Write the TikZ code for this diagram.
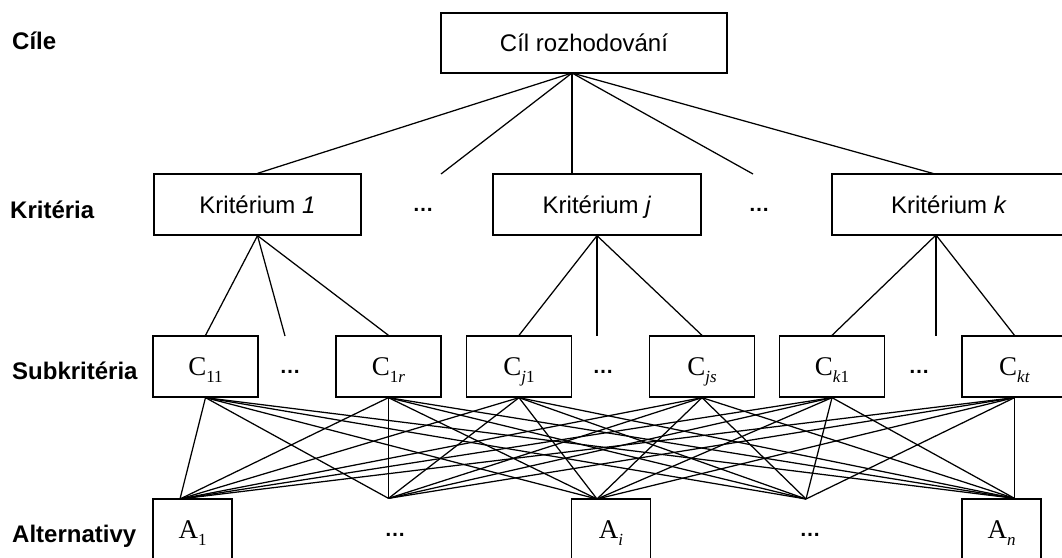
\documentclass[tikz,border=0pt]{standalone}
\usepackage{fontspec}
\setmainfont{Liberation Sans}
\newfontfamily\serifA{Liberation Serif}
\newcommand\lowsub[1]{\raisebox{-0.25em}{\fontsize{17}{17}\selectfont #1}}
\begin{document}
\begin{tikzpicture}[x=1pt,y=-1pt,
  box/.style={draw,line width=1.3pt,inner sep=0pt,minimum height=61pt,text depth=0pt},
  sanstxt/.style={font=\fontsize{24}{24}\selectfont,text height=17.2pt},
  sertxt/.style={font=\serifA\fontsize{27}{27}\selectfont,text height=17.9pt},
  lbl/.style={font=\fontsize{24}{24}\selectfont\bfseries,anchor=base west,inner sep=0pt},
  dotsnode/.style={font=\fontsize{21}{21}\selectfont\bfseries,inner sep=0pt},
  link/.style={line width=1.25pt}]
\useasboundingbox (0,0) rectangle (1062,557);

% level labels
\node[lbl] (l1) at (12,49.5) {Cíle};
\node[lbl] (l2) at (10,218) {Kritéria};
\node[lbl] (l3) at (12,379) {Subkritéria};
\node[lbl] (l4) at (12,542) {Alternativy};

% goal
\node[box,sanstxt,minimum width=286pt,minimum height=60pt] (cil) at (584,43) {Cíl rozhodování};

% criteria
\node[box,sanstxt,minimum width=207pt] (k1) at (257.5,204.5) {Kritérium \textit{1}};
\node[box,sanstxt,minimum width=208pt] (kj) at (597,204.5) {Kritérium \textit{j}};
\node[box,sanstxt,minimum width=234pt] (kk) at (949,204.5) {Kritérium \textit{k}};
\node[dotsnode] (d1) at (423,210) {…};
\node[dotsnode] (d2) at (759,210) {…};

% subcriteria
\node[box,sertxt,minimum width=105pt] (c11) at (205.5,366.5) {C\lowsub{11}};
\node[box,sertxt,minimum width=105pt] (c1r) at (388.5,366.5) {C\lowsub{1\textit{r}}};
\node[box,sertxt,minimum width=105pt] (cj1) at (519,366.5) {C\lowsub{\textit{j}1}};
\node[box,sertxt,minimum width=105pt] (cjs) at (702,366.5) {C\lowsub{\textit{js}}};
\node[box,sertxt,minimum width=105pt] (ck1) at (832,366.5) {C\lowsub{\textit{k}1}};
\node[box,sertxt,minimum width=105pt] (ckt) at (1014.5,366.5) {C\lowsub{\textit{kt}}};
\node[dotsnode] (d3) at (290,372) {…};
\node[dotsnode] (d4) at (603,372) {…};
\node[dotsnode] (d5) at (919,372) {…};

% alternatives
\node[box,sertxt,minimum width=79pt] (a1) at (192.5,529.5) {A\lowsub{1}};
\node[box,sertxt,minimum width=79pt] (ai) at (611,529.5) {A\lowsub{\textit{i}}};
\node[box,sertxt,minimum width=79pt] (an) at (1001.5,529.5) {A\lowsub{\textit{n}}};
\node[dotsnode] (d6) at (395,535) {…};
\node[dotsnode] (d7) at (810,535) {…};

% goal -> criteria
\coordinate (g) at (572,73);
\coordinate (f1) at (441,174);
\coordinate (f2) at (753,174);
\coordinate (kkt) at (935,174);
\draw[link] (g) -- (k1.north);
\draw[link] (g) -- (f1);
\draw[link] (g) -- (kj.north -| g);
\draw[link] (g) -- (f2);
\draw[link] (g) -- (kkt);

% criteria -> subcriteria
\coordinate (kkb) at (936,235);
\coordinate (fa) at (285,336);
\coordinate (fb) at (597,336);
\coordinate (fc) at (936,336);
\draw[link] (k1.south) -- (c11.north);
\draw[link] (k1.south) -- (fa);
\draw[link] (k1.south) -- (c1r.north);
\draw[link] (kj.south) -- (cj1.north);
\draw[link] (kj.south) -- (fb);
\draw[link] (kj.south) -- (cjs.north);
\draw[link] (kkb) -- (ck1.north);
\draw[link] (kkb) -- (fc);
\draw[link] (kkb) -- (ckt.north);

% subcriteria -> alternatives
\coordinate (p1) at (180,499);
\coordinate (p2) at (c1r.south |- a1.north);
\coordinate (p3) at (597,499);
\coordinate (p4) at (806,499);
\coordinate (p5) at (ckt.south |- an.north);
\foreach \s in {c11,c1r,cj1,cjs,ck1,ckt}
  \foreach \t in {p1,p2,p3,p4,p5}
    \draw[link] (\s.south) -- (\t);
\end{tikzpicture}
\end{document}
